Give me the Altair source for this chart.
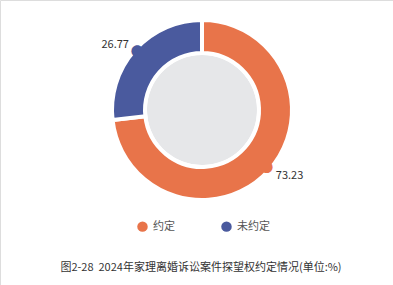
import math
import altair as alt
import pandas as pd

categories = ["约定", "未约定"]
values = [73.23, 26.77]
colors = ["#E8744A", "#4A5A9E"]
title_text = "图2-28\u00a0\u00a02024年家理离婚诉讼案件探望权约定情况(单位:%)"

FONT = "Noto Sans CJK SC"
CX, CY = 202, 110

df = pd.DataFrame({"cat": categories, "val": values, "order": list(range(len(categories)))})

base = alt.Chart(df).transform_window(
    cum="sum(val)", sort=[alt.SortField("order")], frame=[None, 0]
).transform_calculate(
    start="datum.cum - datum.val", mid="datum.cum - datum.val / 2"
)

theta_scale = alt.Scale(domain=[0, 100], range=[0, 2 * math.pi])
color = alt.Color(
    "cat:N",
    scale=alt.Scale(domain=categories, range=colors),
    sort=categories,
    legend=alt.Legend(
        title=None, orient="none", legendX=137, legendY=221, direction="horizontal",
        symbolType="circle", symbolSize=110, symbolStrokeWidth=0,
        labelFontSize=11, labelColor="#555555", labelFont=FONT,
        columnPadding=46, labelOffset=5,
    ),
)

inner = alt.Chart(df).transform_filter("datum.order == 0").mark_arc(
    radius=55, color="#E6E7E9"
).encode(theta=alt.value(0), theta2=alt.value(2 * math.pi), x=alt.value(CX), y=alt.value(CY))

ring = base.mark_arc(outerRadius=90, innerRadius=57, stroke="white", strokeWidth=4).encode(
    theta=alt.Theta("start:Q", scale=theta_scale, stack=None),
    theta2="cum:Q",
    color=color,
    x=alt.value(CX), y=alt.value(CY),
)

dots = base.mark_text(text="●", fontSize=13, radius=87, baseline="middle", align="center").encode(
    theta=alt.Theta("mid:Q", scale=theta_scale, stack=None),
    color=color,
    x=alt.value(CX), y=alt.value(CY),
)

lab_right = base.transform_filter("datum.order == 0").mark_text(
    radius=99, align="left", baseline="middle", fontSize=11, color="#333333", font=FONT
).encode(
    theta=alt.Theta("mid:Q", scale=theta_scale, stack=None),
    text=alt.Text("val:Q", format=".2f"),
    x=alt.value(CX), y=alt.value(CY),
)

lab_left = base.transform_filter("datum.order == 1").mark_text(
    radius=98, align="right", baseline="middle", fontSize=11, color="#333333", font=FONT
).encode(
    theta=alt.Theta("mid:Q", scale=theta_scale, stack=None),
    text=alt.Text("val:Q", format=".2f"),
    x=alt.value(CX), y=alt.value(CY),
)

title = alt.Chart(pd.DataFrame({"t": [title_text]})).mark_text(
    fontSize=11, color="#333333", font=FONT, align="center", baseline="middle"
).encode(text="t:N", x=alt.value(201), y=alt.value(268))

chart = alt.layer(inner, ring, dots, lab_right, lab_left, title).properties(
    width=393, height=285, padding=0, autosize=alt.AutoSizeParams(type="none")
).configure_view(stroke=None).configure(font=FONT, background="white")

chart.save("out.html", embed_options={"renderer": "svg", "actions": False})
